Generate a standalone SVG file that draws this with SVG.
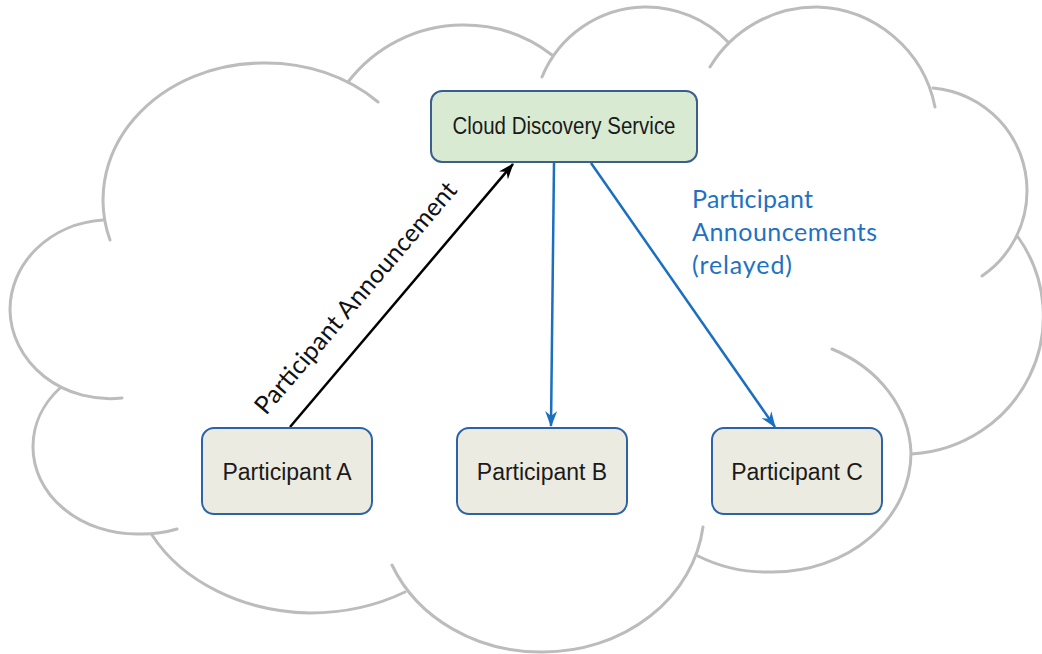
<svg xmlns="http://www.w3.org/2000/svg" width="1042" height="654" viewBox="0 0 1042 654">
  <defs>
    <style>
      .cloud { fill: none; stroke: #bcbcbc; stroke-width: 3; stroke-linecap: round; }
      .node { fill: #ecebe1; stroke: #2b63a5; stroke-width: 2; }
      .svc { fill: #d9ead3; stroke: #3a5e8e; stroke-width: 2; }
      .ntext { font-family: "Liberation Sans", Arial, sans-serif; font-size: 23px; fill: #1a1a1a; text-anchor: middle; }
      .lbl { font-family: Lato, "Open Sans", sans-serif; font-size: 25px; }
      .blk { stroke: #000; stroke-width: 2.5; fill: none; }
      .blu { stroke: #1a6fbf; stroke-width: 2.5; fill: none; }
    </style>
    <marker id="ahBlack" viewBox="0 0 16 12" refX="15" refY="6" markerWidth="16" markerHeight="12" orient="auto" markerUnits="userSpaceOnUse">
      <path d="M0,0 L16,6 L0,12 L5,6 Z" fill="#000"/>
    </marker>
    <marker id="ahBlue" viewBox="0 0 16 12" refX="15" refY="6" markerWidth="16" markerHeight="12" orient="auto" markerUnits="userSpaceOnUse">
      <path d="M0,0 L16,6 L0,12 L5,6 Z" fill="#1a6fbf"/>
    </marker>
  </defs>
  <rect width="1042" height="654" fill="#ffffff"/>

  <g id="cloud">
    <path class="cloud" d="M110,240 A160,137 0 0 1 262,63 A160,137 0 0 1 378,102"/>
    <path class="cloud" d="M348,82 A145,145 0 0 1 462,25 A145,145 0 0 1 552,55"/>
    <path class="cloud" d="M542,77 A113,113 0 0 1 644,7 A113,113 0 0 1 728,42"/>
    <path class="cloud" d="M710,67 A124,124 0 0 1 817,7 A124,124 0 0 1 935,107"/>
    <path class="cloud" d="M933,88 A103,103 0 0 1 1027,190 A103,103 0 0 1 982,276"/>
    <path class="cloud" d="M1018,237 A140,138 0 0 1 912,454"/>
    <path class="cloud" d="M832,349 A138,119 0 0 1 911,453 A138,119 0 0 1 773,572 A138,119 0 0 1 698,556"/>
    <path class="cloud" d="M703,527 A161,142 0 0 1 543,652 A161,142 0 0 1 392,565"/>
    <path class="cloud" d="M405,592 A182,143 0 0 1 310,613 A182,143 0 0 1 152,535"/>
    <path class="cloud" d="M60,388 A104,87 0 0 0 33,447 A104,87 0 0 0 137,534 A104,87 0 0 0 177,529"/>
    <path class="cloud" d="M103,220 A100,90 0 0 0 10,310 A100,90 0 0 0 122,398"/>
  </g>

  <g id="connectors">
    <line class="blk" x1="290" y1="427" x2="513" y2="164" marker-end="url(#ahBlack)"/>
    <line class="blu" x1="554" y1="163" x2="551" y2="426" marker-end="url(#ahBlue)"/>
    <line class="blu" x1="591" y1="163" x2="775" y2="427" marker-end="url(#ahBlue)"/>
    <text class="lbl" fill="#111111" transform="translate(266,416) rotate(-49.5)" textLength="296">Participant Announcement</text>
    <text class="lbl" fill="#1f72c3">
      <tspan x="692" y="208" textLength="121">Participant</tspan>
      <tspan x="692" y="241" textLength="185">Announcements</tspan>
      <tspan x="692" y="274" textLength="100">(relayed)</tspan>
    </text>
  </g>

  <g id="cloud-discovery-service">
    <rect class="svc" x="431" y="91" width="266" height="71" rx="11"/>
    <text class="ntext" x="564" y="134" textLength="223" lengthAdjust="spacingAndGlyphs">Cloud Discovery Service</text>
  </g>
  <g id="participant-a">
    <rect class="node" x="202" y="428" width="170" height="86" rx="12"/>
    <text class="ntext" x="287" y="480">Participant A</text>
  </g>
  <g id="participant-b">
    <rect class="node" x="457" y="428" width="170" height="86" rx="12"/>
    <text class="ntext" x="542" y="480">Participant B</text>
  </g>
  <g id="participant-c">
    <rect class="node" x="712" y="428" width="170" height="86" rx="12"/>
    <text class="ntext" x="797" y="480">Participant C</text>
  </g>
</svg>
